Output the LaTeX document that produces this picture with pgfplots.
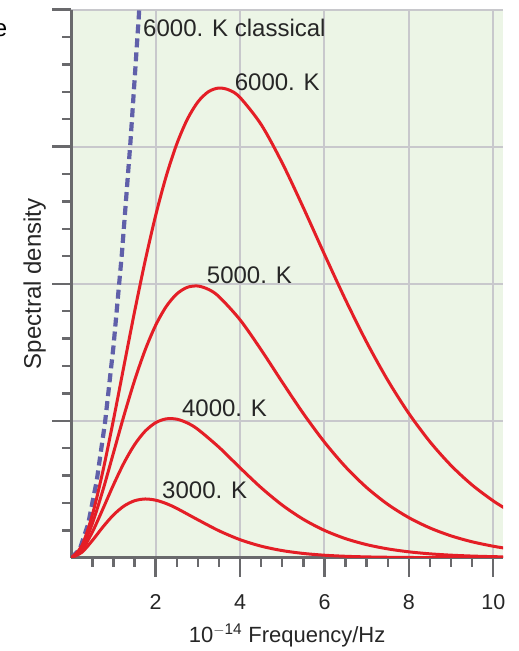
\documentclass[border=0pt]{standalone}
\usepackage{pgfplots}
\pgfplotsset{compat=1.18}
\usepackage{fontspec}
\setmainfont{Liberation Sans}
\definecolor{curvered}{RGB}{228,30,38}
\definecolor{classblue}{RGB}{96,96,170}
\definecolor{bggreen}{RGB}{236,245,230}
\definecolor{gridgray}{RGB}{200,200,204}
\definecolor{axgray}{RGB}{105,105,108}
\begin{document}
\begin{tikzpicture}
\useasboundingbox (-71.3pt,-93.3pt) rectangle (447.7pt,557.7pt);
\begin{axis}[
  at={(0pt,0pt)}, anchor=south west,
  scale only axis, width=431.7pt, height=548pt,
  xmin=0, xmax=10.23, ymin=0, ymax=4,
  axis x line*=bottom, axis y line*=left,
  axis background/.style={fill=bggreen},
  axis line style={axgray, line width=2.6pt},
  xtick={2,4,6,8,10},
  minor xtick={0.5,1,1.5,2.5,3,3.5,4.5,5,5.5,6.5,7,7.5,8.5,9,9.5},
  ytick={1,2,3,4}, yticklabels={},
  minor ytick={0.2,0.4,0.6,0.8,1.2,1.4,1.6,1.8,2.2,2.4,2.6,2.8,3.2,3.4,3.6,3.8},
  tick align=outside,
  major tick length=19pt, minor tick length=9pt,
  every tick/.style={axgray, line width=2.4pt},
  xmajorgrids, ymajorgrids,
  major grid style={gridgray, line width=2pt},
  /pgf/number format/assume math mode=true,
  xticklabel style={font=\fontsize{21.5}{24}\selectfont, text=black!85, yshift=-14pt},
  xlabel={10\textsuperscript{$-$14} Frequency/Hz},
  xlabel style={font=\fontsize{22}{26}\selectfont, text=black!85, yshift=-8pt},
  ylabel={Spectral density},
  ylabel style={font=\fontsize{24}{28}\selectfont, text=black!85, yshift=-4pt},
  clip=true,
]
\addplot[classblue, line width=4.2pt, dash pattern=on 9pt off 5pt] coordinates {
(0,0) (0.2,0.0618) (0.4,0.2470) (0.6,0.5558) (0.8,0.9882) (1.0,1.5440) (1.2,2.2234) (1.4,3.0262) (1.6,3.9526) (1.7,4.4622)};
\addplot[curvered, line width=3pt, smooth] coordinates {
(0,0) (0.25,0.0872) (0.5,0.3139) (0.75,0.6338) (1,1.0077) (1.25,1.4038) (1.5,1.7965) (1.75,2.1664) (2,2.4993) (2.25,2.7858) (2.5,3.0203) (2.75,3.2005) (3,3.3268) (3.25,3.4015) (3.5,3.4284) (3.75,3.4124) (4,3.3587) (4.5,3.1614) (5,2.8802) (5.5,2.5540) (6,2.2136) (6.5,1.8814) (7,1.5723) (7.5,1.2947) (8,1.0524) (8.5,0.8457) (9,0.6727) (9.5,0.5302) (10,0.4144) (10.3,0.3562)};
\addplot[curvered, line width=3pt, smooth] coordinates {
(0,0) (0.25,0.0711) (0.5,0.2506) (0.75,0.4941) (1,0.7663) (1.25,1.0396) (1.5,1.2942) (1.75,1.5161) (2,1.6973) (2.25,1.8338) (2.5,1.9252) (2.75,1.9737) (3,1.9831) (3.25,1.9585) (3.5,1.9055) (4,1.7362) (4.5,1.5168) (5,1.2810) (5.5,1.0517) (6,0.8432) (6.5,0.6626) (7,0.5117) (7.5,0.3893) (8,0.2923) (8.5,0.2169) (9,0.1593) (9.5,0.1159) (10,0.0837) (10.3,0.0685)};
\addplot[curvered, line width=3pt, smooth] coordinates {
(0,0) (0.25,0.0552) (0.5,0.1878) (0.75,0.3570) (1,0.5323) (1.25,0.6928) (1.5,0.8254) (1.75,0.9236) (2,0.9857) (2.25,1.0135) (2.5,1.0111) (2.75,0.9836) (3,0.9367) (3.5,0.8061) (4,0.6559) (4.5,0.5106) (5,0.3836) (5.5,0.2799) (6,0.1993) (6.5,0.1390) (7,0.0953) (7.5,0.0643) (8,0.0428) (8.5,0.0282) (9,0.0184) (9.5,0.0119) (10,0.0076) (10.3,0.0058)};
\addplot[curvered, line width=3pt, smooth] coordinates {
(0,0) (0.25,0.0392) (0.5,0.1260) (0.75,0.2246) (1,0.3124) (1.25,0.3775) (1.5,0.4158) (1.75,0.4286) (2,0.4198) (2.25,0.3952) (2.5,0.3600) (3,0.2767) (3.5,0.1965) (4,0.1315) (4.5,0.0841) (5,0.0518) (5.5,0.0310) (6,0.0181) (6.5,0.0103) (7,0.0058) (7.5,0.0032) (8,0.0017) (8.5,0.0009) (9,0.0005) (9.5,0.0003) (10,0.0001) (10.3,0.0001)};
\begin{scope}[every node/.style={font=\fontsize{24}{28}\selectfont, text=black!85, inner sep=0pt, anchor=west}]
\node at (axis cs:1.70,3.87) {6000. K classical};
\node at (axis cs:3.87,3.47) {6000. K};
\node at (axis cs:3.21,2.06) {5000. K};
\node at (axis cs:2.62,1.09) {4000. K};
\node at (axis cs:2.15,0.49) {3000. K};
\end{scope}
\end{axis}
\node[anchor=east, inner sep=0pt, font=\fontsize{24}{28}\selectfont] at (-64pt,528pt) {e};
\end{tikzpicture}
\end{document}
